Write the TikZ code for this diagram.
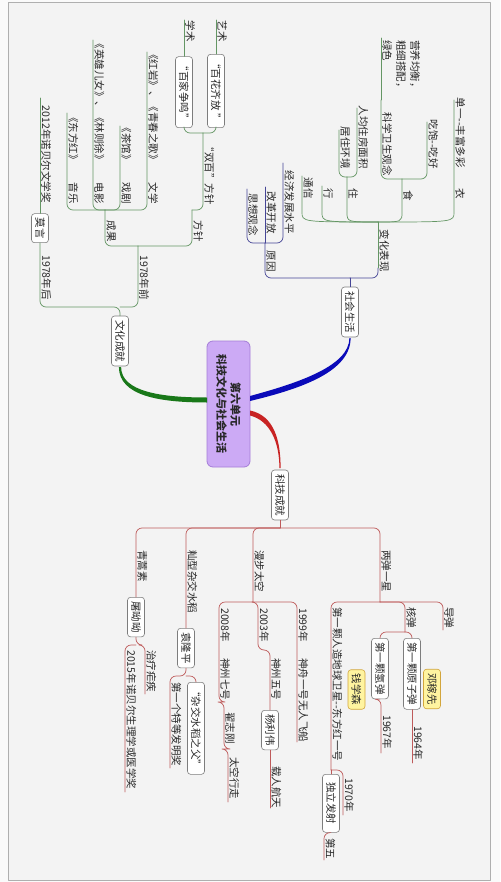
\documentclass[tikz,border=0pt]{standalone}
\usepackage{fontspec}
\setmainfont{Noto Sans CJK SC}

\definecolor{bgout}{RGB}{250,250,250}
\definecolor{bgin}{RGB}{243,243,243}
\definecolor{frame}{RGB}{175,175,175}
\definecolor{txt}{RGB}{40,40,40}
\definecolor{boxline}{RGB}{125,125,125}
\definecolor{gthin}{RGB}{100,150,100}
\definecolor{bthin}{RGB}{70,70,150}
\definecolor{rthin}{RGB}{190,90,90}
\definecolor{gmain}{RGB}{25,120,25}
\definecolor{bmain}{RGB}{10,10,185}
\definecolor{rmain}{RGB}{200,35,35}
\definecolor{rootfill}{RGB}{204,170,245}
\definecolor{rootline}{RGB}{165,125,215}
\definecolor{calloutfill}{RGB}{255,244,160}
\definecolor{calloutline}{RGB}{210,165,60}

\begin{document}
\begin{tikzpicture}[x=1pt, y=-1pt, line cap=round, line join=round]

% ---------------- styles ----------------
\tikzset{
  lbl/.style    ={rotate=-90, inner xsep=2pt, inner ysep=1.2pt,
                  font=\fontsize{10.5}{12}\selectfont, text=txt},
  topic/.style  ={lbl, draw=boxline, fill=white, rounded corners=3pt,
                  minimum height=17pt, inner xsep=4pt, inner ysep=2pt, line width=0.6pt},
  callout/.style={topic, draw=calloutline, fill=calloutfill},
  rootbox/.style={rotate=-90, draw=rootline, fill=rootfill, rounded corners=6pt,
                  minimum width=126pt, minimum height=43pt, align=center,
                  line width=0.8pt, font=\bfseries\fontsize{11}{14}\selectfont, text=txt},
  gline/.style  ={draw=gthin, line width=0.7pt, rounded corners=6pt},
  bline/.style  ={draw=bthin, line width=0.7pt, rounded corners=6pt},
  rline/.style  ={draw=rthin, line width=0.7pt, rounded corners=6pt}
}

% ---------------- background ----------------
\useasboundingbox (0,0) rectangle (500,882);
\fill[bgout] (0,0) rectangle (500,882);
\filldraw[fill=bgin, draw=frame, line width=0.8pt] (8,2) rectangle (490,880);

% ---------------- root ----------------
\node[rootbox] (root) at (228.5,404) {第六单元\\科技文化与社会生活};

% ================= 文化成就 =================
\node[topic] (whcj) at (120,341) {文化成就};
\coordinate (whJ) at (120,307);

\node[lbl, anchor=south east] (y78h) at (40,302) {1978年后};
\node[topic, anchor=east] (moyan) at (40,243) {莫言};
\node[lbl, anchor=south east] (nob12) at (40,205) {2012年诺贝尔文学奖};
\coordinate (nob12E) at (40,98);
\draw[gline] (whcj.west) -- (whJ) -| (moyan.east);
\draw[gline] (moyan.west) -- (nob12E);

\node[lbl, anchor=south east] (y78q) at (138,302) {1978年前};
\coordinate (y78qE) at (138,246);
\draw[gline] (whJ) -| (y78qE);

% 成果
\node[lbl, anchor=south east] (cg) at (105,244) {成果};
\coordinate (cgE) at (105,210);
\draw[gline] (y78qE) -| (cgE);

\node[lbl, anchor=south east] (wx) at (147,206) {文学};
\coordinate (wxE) at (147,177);
\node[lbl, anchor=south east] (hy) at (147,167) {《红岩》、《青春之歌》};
\coordinate (hyE) at (147,52);
\draw[gline] (cgE) -| (wxE) -- (hyE);

\node[lbl, anchor=south east] (xj) at (120,206) {戏剧};
\coordinate (xjE) at (120,177);
\node[lbl, anchor=south east] (cgn) at (120,167) {《茶馆》};
\coordinate (cgnE) at (120,126);
\draw[gline] (cgE) -| (xjE) -- (cgnE);

\node[lbl, anchor=south east] (dy) at (93,206) {电影};
\coordinate (dyE) at (93,177);
\node[lbl, anchor=south east] (yx) at (93,167) {《英雄儿女》、《林则徐》};
\coordinate (yxE) at (93,40);
\draw[gline] (cgE) -| (dyE) -- (yxE);

\node[lbl, anchor=south east] (yl) at (67,206) {音乐};
\coordinate (ylE) at (67,177);
\node[lbl, anchor=south east] (dfh) at (67,167) {《东方红》};
\coordinate (dfhE) at (67,113);
\draw[gline] (cgE) -| (ylE) -- (dfhE);

% 方针
\node[lbl, anchor=south east] (fz) at (192,244) {方针};
\coordinate (fzE) at (192,210);
\draw[gline] (y78qE) -| (fzE);

\node[lbl, anchor=south east] (sb) at (203,207) {“双百”方针};
\coordinate (sbE) at (203,133);
\draw[gline] (fzE) -| (sbE);

\node[topic, anchor=east] (bhqf) at (216,128) {“百花齐放 ”};
\node[topic, anchor=east] (bjzm) at (184,128) {“百家争鸣”};
\draw[gline] (sbE) -| (bhqf.east);
\draw[gline] (sbE) -| (bjzm.east);

\node[lbl, anchor=south east] (ys) at (216,44) {艺术};
\coordinate (ysE) at (216,20);
\draw[gline] (bhqf.west) -- (ysE);
\node[lbl, anchor=south east] (xs) at (184,44) {学术};
\coordinate (xsE) at (184,20);
\draw[gline] (bjzm.west) -- (xsE);

% ================= 社会生活 =================
\node[topic] (shsh) at (350,312) {社会生活};
\coordinate (shJ) at (350,278);
\draw[bline] (shsh.west) -- (shJ);

% 原因
\node[lbl, anchor=south east] (yy) at (265,274) {原因};
\coordinate (yyE) at (265,243);
\draw[bline] (shJ) -| (yyE);

\node[lbl, anchor=south east] (jj) at (283,236) {经济发展水平};
\coordinate (jjE) at (283,163);
\node[lbl, anchor=south east] (gg) at (265,236) {改革开放};
\coordinate (ggE) at (265,187);
\node[lbl, anchor=south east] (sx) at (247,238) {思想观念};
\coordinate (sxE) at (247,189);
\draw[bline] (yyE) -| (jjE);
\draw[bline] (yyE) -- (ggE);
\draw[bline] (yyE) -| (sxE);

% 变化表现
\node[lbl, anchor=south east] (bh) at (378,274) {变化表现};
\coordinate (bhS) at (378,268);
\coordinate (bhE) at (378,222);
\draw[bline] (shJ) -| (bhS);
\draw[gline] (bhS) -- (bhE);

% 衣
\node[lbl, anchor=south east] (yi) at (454,201) {衣};
\coordinate (yiS) at (454,206);
\coordinate (yiE) at (454,177);
\node[lbl, anchor=south east] (dy1) at (454,170) {单一-{}-丰富多彩};
\coordinate (dy1E) at (454,100);
\draw[gline] (bhE) .. controls (454,222) .. (yiS) -- (yiE) -- (dy1E);

% 食
\node[lbl, anchor=south east] (shi) at (402,203) {食};
\coordinate (shiS) at (402,206);
\coordinate (shiE) at (402,179);
\draw[gline] (bhE) .. controls (402,222) .. (shiS) -- (shiE);
\node[lbl, anchor=south east] (cb) at (427,171) {吃饱-{}-吃好};
\coordinate (cbE) at (427,122);
\draw[gline] (shiE) -| (cbE);
\node[lbl, anchor=south east] (kx) at (381,178) {科学卫生观念};
\coordinate (kxE) at (381,100);
\draw[gline] (shiE) -| (kxE);
\node[lbl, anchor=south west, align=left, font=\fontsize{10.5}{14}\selectfont]
  (yyjh) at (381,38) {营养均衡，\\粗细搭配，\\绿色};
\coordinate (yyjhE) at (381,38);
\draw[gline] (kxE) -- (yyjhE);

% 住
\node[lbl, anchor=south east] (zhu) at (347,201) {住};
\coordinate (zhuS) at (347,206);
\coordinate (zhuE) at (347,177);
\draw[gline] (bhE) .. controls (347,222) .. (zhuS) -- (zhuE);
\node[lbl, anchor=south east] (rj) at (357,171) {人均住房面积};
\coordinate (rjE) at (357,108);
\draw[gline] (zhuE) -| (rjE);
\node[lbl, anchor=south east] (jz) at (339,171) {居住环境};
\coordinate (jzE) at (339,130);
\draw[gline] (zhuE) -| (jzE);

% 行 / 通信
\node[lbl, anchor=south east] (xing) at (322,201) {行};
\coordinate (xingS) at (322,206);
\coordinate (xingE) at (322,186);
\draw[gline] (bhE) .. controls (322,222) .. (xingS) -- (xingE);
\node[lbl, anchor=south east] (tx) at (302,201) {通信};
\coordinate (txS) at (302,206);
\coordinate (txE) at (302,176);
\draw[gline] (bhE) .. controls (302,222) .. (txS) -- (txE);

% ================= 科技成就 =================
\node[topic] (kjcj) at (280,495) {科技成就};
\coordinate (kjJ) at (280,528);
\draw[rline] (kjcj.east) -- (kjJ);

% 青蒿素
\node[lbl, anchor=south west] (qhs) at (136,548) {青蒿素};
\node[topic, anchor=west] (tyy) at (136,597) {屠呦呦};
\draw[rline] (kjJ) -| (tyy.west);
\coordinate (tyyJ) at (136,645);
\node[lbl, anchor=south west] (zlnj) at (145,648) {治疗疟疾};
\coordinate (zlnjE) at (145,694);
\node[lbl, anchor=south west] (nob15) at (125,648) {2015年诺贝尔生理学或医学奖};
\coordinate (nob15E) at (125,792);
\draw[rline] (tyy.east) -- (tyyJ) -| (zlnjE);
\draw[rline] (tyyJ) -| (nob15E);

% 籼型杂交水稻
\node[lbl, anchor=south west] (sxzj) at (186,548) {籼型杂交水稻};
\node[topic, anchor=west] (ylp) at (186,628) {袁隆平};
\draw[rline] (kjJ) -| (ylp.west);
\coordinate (ylpJ) at (186,676);
\node[lbl, anchor=south west] (tdj) at (170,680) {第一个特等发明奖};
\coordinate (tdjE) at (170,768);
\node[topic, anchor=west] (zjsd) at (196,682) {“杂交水稻之父”};
\draw[rline] (ylp.east) -- (ylpJ) -| (tdjE);
\draw[rline] (ylpJ) -| (zjsd.west);

% 漫步太空
\node[lbl, anchor=south west] (mbtk) at (253,548) {漫步太空};
\coordinate (mbtkE) at (253,602);
\draw[rline] (kjJ) -| (mbtkE);

\node[lbl, anchor=south west] (y08) at (219,606) {2008年};
\coordinate (y08E) at (219,650);
\node[lbl, anchor=south west] (sz7) at (219,656) {神州七号};
\coordinate (sz7E) at (219,702);
\node[lbl, anchor=south west] (zzg) at (224,710) {翟志刚};
\coordinate (zzgE) at (224,749);
\node[lbl, anchor=south west] (tkxz) at (228,755) {太空行走};
\coordinate (tkxzE) at (228,802);
\draw[rline] (mbtkE) -| (y08E) -- (sz7E) -| (zzgE) -| (tkxzE);

\node[lbl, anchor=south west] (y03) at (258,606) {2003年};
\coordinate (y03E) at (258,650);
\node[lbl, anchor=south west] (sz5) at (270,656) {神州五号};
\node[topic, anchor=west] (ylw) at (270,710) {杨利伟};
\node[lbl, anchor=south west] (zrht) at (270,764) {载人航天};
\coordinate (zrhtE) at (270,808);
\draw[rline] (mbtkE) -| (y03E) -| (ylw.west);
\draw[rline] (ylw.east) -- (zrhtE);

\node[lbl, anchor=south west] (y99) at (297,606) {1999年};
\coordinate (y99E) at (297,650);
\node[lbl, anchor=south west] (sz1) at (297,656) {神舟一号无人飞船};
\coordinate (sz1E) at (297,742);
\draw[rline] (mbtkE) -| (y99E) -- (sz1E);

% 两弹一星
\node[lbl, anchor=south west] (ldyx) at (380,548) {两弹一星};
\coordinate (ldyxE) at (380,602);
\draw[rline] (kjJ) -| (ldyxE);

\node[lbl, anchor=south west] (dd) at (443,605) {导弹};
\coordinate (ddE) at (443,630);
\draw[rline] (ldyxE) -| (ddE);

\node[lbl, anchor=south west] (hd) at (405,605) {核弹};
\coordinate (hdJ) at (405,632);
\draw[rline] (ldyxE) -| (hdJ);
\node[topic, anchor=west] (yzd) at (412,638) {第一颗原子弹};
\node[topic, anchor=west] (qd) at (380,638) {第一颗氢弹};
\draw[rline] (hdJ) -| (yzd.west);
\draw[rline] (hdJ) -| (qd.west);
\node[lbl, anchor=south west] (y64) at (412,724) {1964年};
\coordinate (y64E) at (412,763);
\draw[rline] (yzd.east) -- (y64E);
\node[lbl, anchor=south west] (y67) at (381,713) {1967年};
\coordinate (y67E) at (381,753);
\draw[rline] (qd.east) -| (y67E);

\node[lbl, anchor=south west] (dfhw) at (331,605) {第一颗人造地球卫星-{}-东方红一号};
\coordinate (dfhwE) at (331,770);
\draw[rline] (ldyxE) -| (dfhwE);
\node[lbl, anchor=south west] (y70) at (343,776) {1970年};
\coordinate (y70E) at (343,815);
\draw[rline] (dfhwE) -| (y70E);
\node[topic, anchor=west, minimum width=58pt] (dlfs) at (331,774) {独立发射};
\draw[rline] (dfhwE) -- (dlfs.west);
\node[lbl, anchor=south west] (dw) at (324,836) {第五};
\coordinate (dwE) at (324,860);
\draw[rline] (dlfs.east) -| (dwE);

% callouts
\node[callout] (djx) at (432,689) {邓稼先};
\node[callout] (qxs) at (356.5,689.5) {钱学森};

% ---------------- main branches (tapered) ----------------
\fill[gmain] (118.9,367) .. controls (118.9,396) and (160,402.5) .. (207,402.5)
  -- (207,397.5) .. controls (162,397.5) and (121.1,392) .. (121.1,367) -- cycle;
\fill[bmain] (350.6,338) .. controls (350.6,372) and (300,389) .. (250,401)
  -- (250,396) .. controls (298,383) and (349.4,366) .. (349.4,338) -- cycle;
\fill[rmain] (250,410.5) .. controls (274,415.5) and (280.6,440) .. (280.6,468)
  -- (279.4,468) .. controls (279.4,442) and (270,420.5) .. (250,415.5) -- cycle;

\end{tikzpicture}
\end{document}
